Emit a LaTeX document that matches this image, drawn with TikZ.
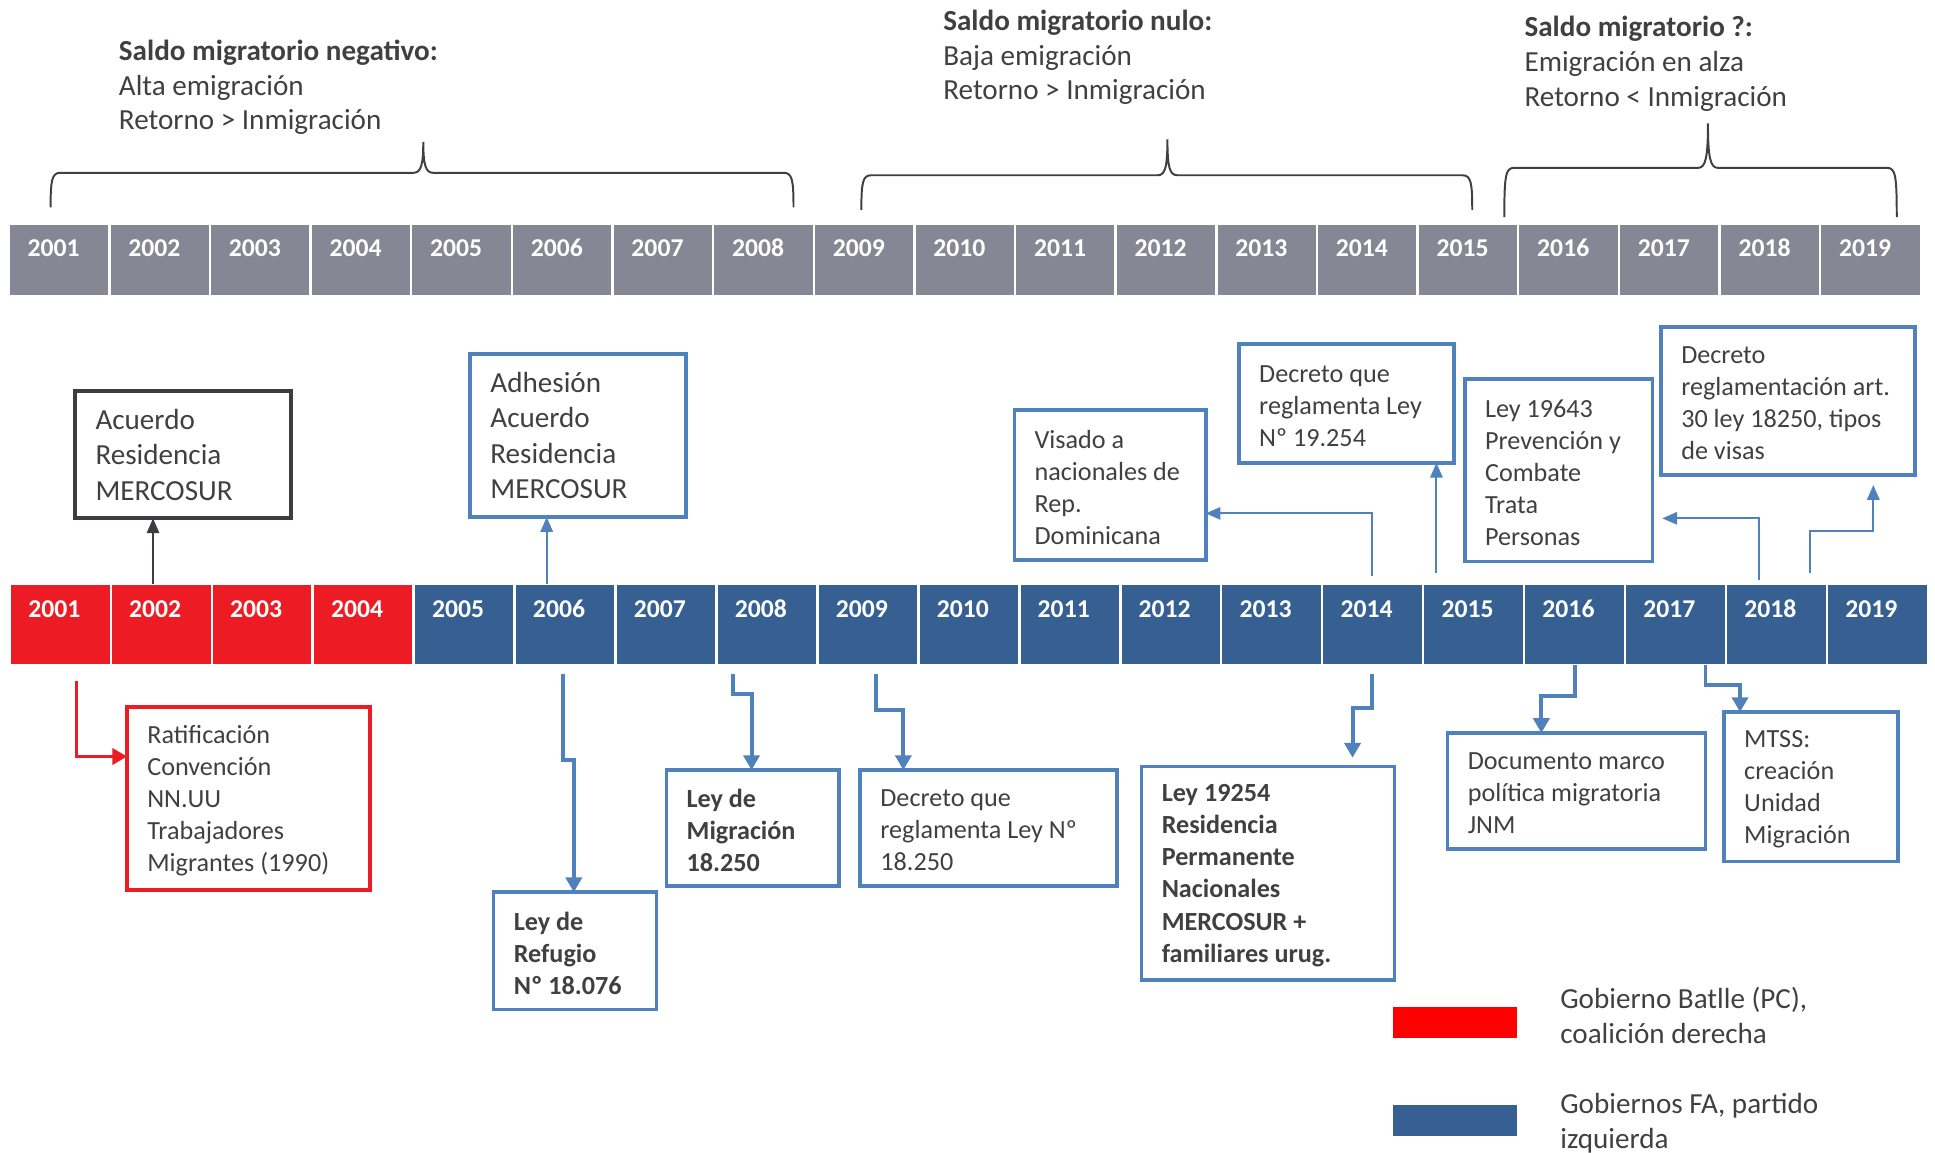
\documentclass[tikz,border=0pt]{standalone}
\usepackage{fontspec}
\setmainfont{Carlito}
\usetikzlibrary{arrows.meta}
\definecolor{txtc}{RGB}{64,64,64}
\definecolor{grayc}{RGB}{135,134,148}
\definecolor{redc}{RGB}{237,28,36}
\definecolor{bluec}{RGB}{54,96,145}
\definecolor{boxblue}{RGB}{79,129,189}
\definecolor{legred}{RGB}{255,0,0}
\definecolor{darkb}{RGB}{60,60,66}
\tikzset{
  tcell/.style={fill=grayc,draw=white,line width=1pt,minimum width=40.775pt,minimum height=29.5pt,inner sep=0pt,outer sep=0pt},
  bcell/.style={draw=white,line width=1pt,minimum width=40.9pt,minimum height=33pt,inner sep=0pt,outer sep=0pt},
  ylab/.style={text=white,font=\fontsize{10.4}{12}\selectfont\bfseries,inner sep=0pt},
  toptxt/.style={text=txtc,font=\fontsize{11.8}{14}\selectfont,align=left,inner sep=0pt},
  bxb/.style={draw=boxblue,line width=1.5pt,inner sep=0pt,outer sep=0pt},
  bxd/.style={draw=darkb,line width=1.6pt,inner sep=0pt,outer sep=0pt},
  bxr/.style={draw=redc,line width=1.6pt,inner sep=0pt,outer sep=0pt},
  bigtx/.style={text=txtc,font=\fontsize{11.8}{14.3}\selectfont,align=left,inner sep=0pt},
  smtx/.style={text=txtc,font=\fontsize{10.6}{13}\selectfont,align=left,inner sep=0pt,yshift=-1pt},
  smbtx/.style={text=txtc,font=\fontsize{10.6}{13}\selectfont\bfseries,align=left,inner sep=0pt,yshift=-1pt},
  brc/.style={draw=txtc,line width=0.8pt},
  arrthin/.style={line width=0.8pt,-{Triangle[length=6pt,width=5pt]}},
  arrthick/.style={line width=1.6pt,draw=boxblue,-{Triangle[length=6pt,width=6.5pt]}},
}
\begin{document}
\begin{tikzpicture}[x=0.5pt,y=-0.5pt]
\useasboundingbox (0,0) rectangle (1568,934);

% top texts
\node[toptxt,anchor=north west] (L1) at (96,32) {\textbf{Saldo migratorio negativo:}\\Alta emigración\\Retorno > Inmigración};
\node[toptxt,anchor=north west] (L2) at (764,8) {\textbf{Saldo migratorio nulo:}\\Baja emigración\\Retorno > Inmigración};
\node[toptxt,anchor=north west] (L3) at (1235,13) {\textbf{Saldo migratorio ?:}\\Emigración en alza\\Retorno < Inmigración};

% braces
\draw[brc] (41,168) .. controls (41,146) and (42,140) .. (49,140) -- (335,140) .. controls (341,140) and (343,134) .. (343,115) .. controls (343,134) and (345,140) .. (351,140) -- (635,140) .. controls (642,140) and (643,146) .. (643,168);
\draw[brc] (698,170) .. controls (698,148) and (699,142) .. (706,142) -- (938,142) .. controls (944,142) and (946,136) .. (946,113) .. controls (946,136) and (948,142) .. (954,142) -- (1185,142) .. controls (1192,142) and (1193,148) .. (1193,170);
\draw[brc] (1219,176) .. controls (1219,142) and (1220,136) .. (1227,136) -- (1376,136) .. controls (1382,136) and (1384,128) .. (1384,100) .. controls (1384,128) and (1386,136) .. (1392,136) -- (1529,136) .. controls (1536,136) and (1537,142) .. (1537,176);

% top year bar
\foreach \i in {0,...,18}{
  \pgfmathsetmacro\xa{7+81.55*\i}
  \pgfmathtruncatemacro\yr{2001+\i}
  \node[tcell] (t\yr) at (\xa+40.775,210.5) {};
  \node[ylab,anchor=base west] (tl\yr) at (\xa+15,208) {\yr};
}

% bottom year bar
\foreach \i in {0,...,18}{
  \pgfmathsetmacro\xa{8+81.8*\i}
  \pgfmathtruncatemacro\yr{2001+\i}
  \ifnum\i<4 \def\cc{redc}\else\def\cc{bluec}\fi
  \node[bcell,fill=\cc] (b\yr) at (\xa+40.9,506) {};
  \node[ylab,anchor=base west] (bl\yr) at (\xa+14.5,500) {\yr};
}

% boxes above
\node[bxd,minimum width=87.5pt,minimum height=51.5pt] (A) at (148.5,368.5) {};
\node[bigtx,anchor=west] (At) at ([xshift=8pt]A.west) {Acuerdo\\Residencia\\MERCOSUR};
\node[bxb,minimum width=87.5pt,minimum height=66pt] (B) at (468.5,353) {};
\node[bigtx,anchor=west] (Bt) at ([xshift=8pt]B.west) {Adhesión\\Acuerdo\\Residencia\\MERCOSUR};
\node[bxb,minimum width=77.5pt,minimum height=61pt] (C) at (899.5,393) {};
\node[smtx,anchor=west] (Ct) at ([xshift=8pt]C.west) {Visado a\\nacionales de\\Rep.\\Dominicana};
\node[bxb,minimum width=87pt,minimum height=48pt] (D) at (1091,327) {};
\node[smtx,anchor=west] (Dt) at ([xshift=8pt]D.west) {Decreto que\\reglamenta Ley\\Nº 19.254};
\node[bxb,minimum width=76pt,minimum height=74pt] (E) at (1263,381) {};
\node[smtx,anchor=west] (Et) at ([xshift=8pt]E.west) {Ley 19643\\Prevención y\\Combate\\Trata\\Personas};
\node[bxb,minimum width=103pt,minimum height=60pt] (F) at (1449,325) {};
\node[smtx,anchor=west] (Ft) at ([xshift=8pt]F.west) {Decreto\\reglamentación art.\\30 ley 18250, tipos\\de visas};

% boxes below
\node[bxr,minimum width=98.5pt,minimum height=74pt] (G) at (201.5,647) {};
\node[smtx,anchor=west] (Gt) at ([xshift=8pt]G.west) {Ratificación\\Convención\\NN.UU\\Trabajadores\\Migrantes (1990)};
\node[bxb,minimum width=66pt,minimum height=47.5pt] (H) at (466,770.5) {};
\node[smbtx,anchor=west] (Ht) at ([xshift=8pt]H.west) {Ley de\\Refugio\\Nº 18.076};
\node[bxb,minimum width=70pt,minimum height=47pt] (I) at (610,671) {};
\node[smbtx,anchor=west] (It) at ([xshift=8pt]I.west) {Ley de\\Migración\\18.250};
\node[bxb,minimum width=104pt,minimum height=47pt] (J) at (801,671) {};
\node[smtx,anchor=west] (Jt) at ([xshift=8pt]J.west) {Decreto que\\reglamenta Ley Nº\\18.250};
\node[bxb,minimum width=102.5pt,minimum height=86.5pt] (K) at (1027.5,707.5) {};
\node[smbtx,anchor=west] (Kt) at ([xshift=8pt]K.west) {Ley 19254\\Residencia\\Permanente\\Nacionales\\MERCOSUR +\\familiares urug.};
\node[bxb,minimum width=104.5pt,minimum height=47pt] (L) at (1277.5,641) {};
\node[smtx,anchor=west] (Lt) at ([xshift=8pt]L.west) {Documento marco\\política migratoria\\JNM};
\node[bxb,minimum width=70.5pt,minimum height=60.5pt] (M) at (1467.5,637.5) {};
\node[smtx,anchor=west] (Mt) at ([xshift=8pt]M.west) {MTSS:\\creación\\Unidad\\Migración};

% legend
\node[fill=legred,minimum width=50pt,minimum height=12.5pt,inner sep=0pt] (lr) at (1179,828.5) {};
\node[toptxt,anchor=west] (lrt) at (1264,823) {Gobierno Batlle (PC),\\coalición derecha};
\node[fill=bluec,minimum width=50pt,minimum height=12.5pt,inner sep=0pt] (lb) at (1179,908) {};
\node[toptxt,anchor=west] (lbt) at (1264,910) {Gobiernos FA, partido\\izquierda};

% free ends
\coordinate (c14) at (1112,467);
\coordinate (c15) at (1164,464);
\coordinate (c18a) at (1425,470);
\coordinate (c18b) at (1467,464);
\coordinate (f1) at (1518,393);
\coordinate (e1) at (1347,420);
\coordinate (g0) at (62,552);
\coordinate (h0) at (456,546);
\coordinate (i0) at (594,546);
\coordinate (j0) at (710,546);
\coordinate (k0) at (1112,546);
\coordinate (k1) at (1096,614);

% connectors above
\draw[arrthin,draw=darkb] (124,0 |- b2002.north) -- (124,0 |- A.south);
\draw[arrthin,draw=boxblue] (443,0 |- b2006.north) -- (443,0 |- B.south);
\draw[arrthin,draw=boxblue] (c14) |- (C.east |- 0,416);
\draw[arrthin,draw=boxblue] (c15) -- (c15 |- D.south);
\draw[arrthin,draw=boxblue] (c18a) |- (e1);
\draw[arrthin,draw=boxblue] (c18b) -- (1467,430) -- (1518,430) -- (f1);

% connectors below
\draw[line width=1.6pt,draw=redc,-{Triangle[length=6pt,width=6.5pt]}] (g0) |- (G.west |- 0,613);
\draw[arrthick] (h0) -- (456,616) -- (465,616) -- (465,0 |- H.north);
\draw[arrthick] (i0) -- (594,562) -- (609,562) -- (609,0 |- I.north);
\draw[arrthick] (j0) -- (710,575) -- (732,575) -- (732,0 |- J.north);
\draw[arrthick] (k0) -- (1112,574) -- (1096,574) -- (k1);
\draw[arrthick] (1276,0 |- b2016.south) -- (1276,564) -- (1249,564) -- (1249,0 |- L.north);
\draw[arrthick] (1382,0 |- b2017.south) -- (1382,555) -- (1410,555) -- (1410,0 |- M.north);
\end{tikzpicture}
\end{document}
